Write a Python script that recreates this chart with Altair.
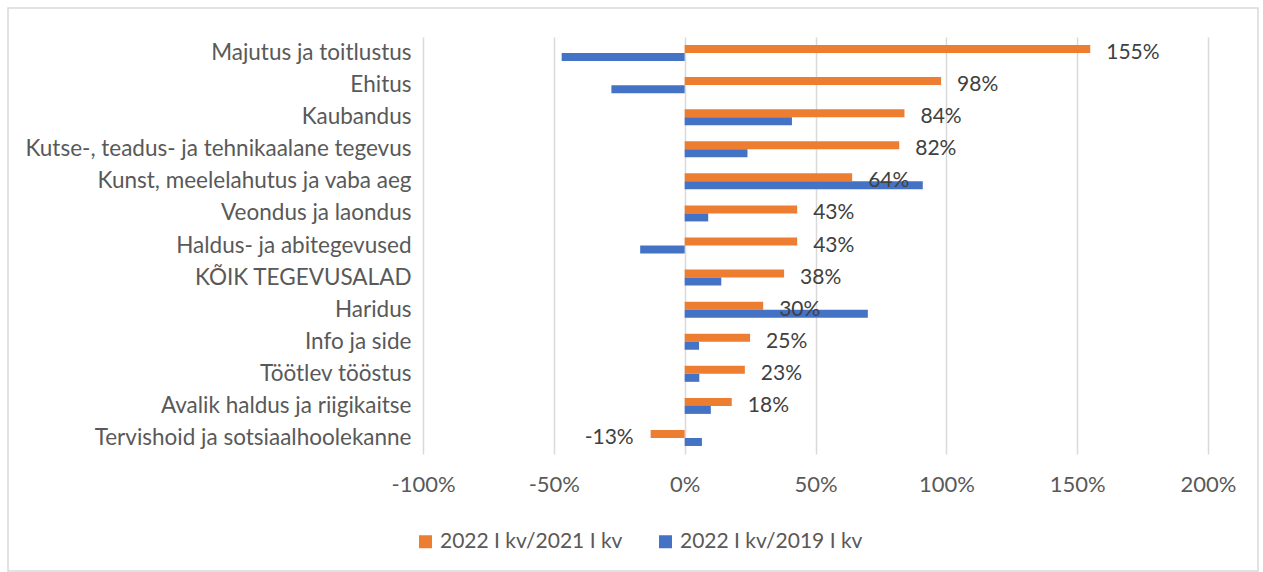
import altair as alt
import pandas as pd

categories = [
    "Majutus ja toitlustus",
    "Ehitus",
    "Kaubandus",
    "Kutse-, teadus- ja tehnikaalane tegevus",
    "Kunst, meelelahutus ja vaba aeg",
    "Veondus ja laondus",
    "Haldus- ja abitegevused",
    "KÕIK TEGEVUSALAD",
    "Haridus",
    "Info ja side",
    "Töötlev tööstus",
    "Avalik haldus ja riigikaitse",
    "Tervishoid ja sotsiaalhoolekanne",
]
series_names = ["2022 I kv/2021 I kv", "2022 I kv/2019 I kv"]
vs_2021 = [1.55, 0.98, 0.84, 0.82, 0.64, 0.43, 0.43, 0.38, 0.30, 0.25, 0.23, 0.18, -0.13]
vs_2019 = [-0.47, -0.28, 0.41, 0.24, 0.91, 0.09, -0.17, 0.14, 0.70, 0.055, 0.056, 0.10, 0.066]
x_ticks = [-1.0, -0.5, 0.0, 0.5, 1.0, 1.5, 2.0]
colors = ["#ED7D31", "#4472C4"]

FONT = "Lato"
FS = 21

rows = []
for c, a, b in zip(categories, vs_2021, vs_2019):
    rows.append({"category": c, "series": series_names[0], "value": a})
    rows.append({"category": c, "series": series_names[1], "value": b})
df = pd.DataFrame(rows)

y_enc = alt.Y(
    "category:N",
    sort=categories,
    scale=alt.Scale(paddingInner=0, paddingOuter=0),
    axis=alt.Axis(
        title=None, domain=False, ticks=False, labelFontSize=22.5, labelFont=FONT,
        labelColor="#595959", labelPadding=12, labelLimit=500,
    ),
)
x_enc = alt.X(
    "value:Q",
    scale=alt.Scale(domain=[-1, 2], nice=False, zero=False),
    axis=alt.Axis(
        values=x_ticks, format=".0%", title=None, domain=False, ticks=False,
        grid=True, gridColor="#d9d9d9", gridWidth=1.5, labelFlush=False,
        labelExpr="replace(datum.label, '\u2212', '-')",
        labelFontSize=22, labelFont=FONT, labelColor="#595959", labelPadding=20,
    ),
)

bars = alt.Chart(df).mark_bar(size=8).encode(
    y=y_enc,
    x=x_enc,
    yOffset=alt.YOffset("series:N", sort=series_names,
                        scale=alt.Scale(paddingOuter=1.0, paddingInner=0)),
    color=alt.Color(
        "series:N",
        sort=series_names,
        scale=alt.Scale(domain=series_names, range=colors),
        legend=alt.Legend(
            title=None, orient="none", legendX=-8, legendY=494, direction="horizontal",
            symbolType="square", symbolSize=169, symbolStrokeWidth=0,
            labelFontSize=21, labelFont=FONT, labelColor="#595959", labelLimit=400,
            columnPadding=32, labelOffset=4,
        ),
    ),
)

lab_df = df[df["series"] == series_names[0]]
base_lab = alt.Chart(lab_df).transform_calculate(
    lbl="replace(format(datum.value, '.0%'), '\u2212', '-')"
)
pos_labels = base_lab.transform_filter("datum.value >= 0").mark_text(
    align="left", baseline="alphabetic", dx=16, dy=6, fontSize=FS, font=FONT, color="#404040"
).encode(y=alt.Y("category:N", sort=categories), x="value:Q", text="lbl:N")
neg_labels = base_lab.transform_filter("datum.value < 0").mark_text(
    align="right", baseline="alphabetic", dx=-17, dy=6, fontSize=FS, font=FONT, color="#404040"
).encode(y=alt.Y("category:N", sort=categories), x="value:Q", text="lbl:N")

frame = alt.Chart(pd.DataFrame({"f": [0]})).mark_rect(
    fill=None, stroke="#d9d9d9", strokeWidth=1.5
).encode(x=alt.value(-415), x2=alt.value(835), y=alt.value(-29), y2=alt.value(534))

chart = alt.layer(frame, bars, pos_labels, neg_labels).properties(
    width=785, height=417,
    padding={"left": 423, "top": 37, "right": 55, "bottom": 118},
    autosize=alt.AutoSizeParams(type="none"),
    background="white",
).configure_view(stroke=None)

chart.save("out.html", embed_options={"renderer": "svg", "actions": False})
